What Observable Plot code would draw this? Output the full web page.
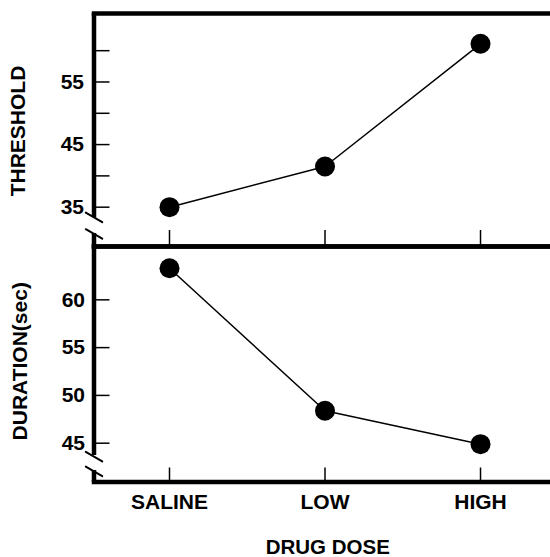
<!DOCTYPE html>
<html><head><meta charset="utf-8">
<script src="https://cdn.jsdelivr.net/npm/d3@7"></script>
<script src="https://cdn.jsdelivr.net/npm/@observablehq/plot@0.6"></script>
<style>
html,body{margin:0;padding:0;background:#fff;}
#chart{position:relative;width:550px;height:557px;}
#chart svg{position:absolute;left:0;top:0;}
</style></head><body><div id="chart"></div>
<script>
const doses = ["SALINE", "LOW", "HIGH"];
const threshold = [35.0, 41.5, 61.1];
const duration = [63.3, 48.4, 44.9];
const thresholdTicks = [35, 40, 45, 50, 55, 60];
const thresholdLabels = [35, 45, 55];
const durationTicks = [45, 50, 55, 60];

const W = 550, H = 557;
const FONT = "'Liberation Sans', Arial, Helvetica, sans-serif";
const STYLE = `background:transparent;font-family:${FONT};font-weight:bold;color:#000;`;
const xDomain = [-0.4855, 2.45];
const xLeft = xDomain[0];
const topData = doses.map((d, i) => ({i, dose: d, v: threshold[i]}));
const botData = doses.map((d, i) => ({i, dose: d, v: duration[i]}));
const slash = {draw(ctx, l) { ctx.moveTo(0, 0); ctx.lineTo(0, -l); }};
const AX = 4.5;

function leftAxis(segs, slashes) {
  return [
    Plot.ruleX(segs, {x: () => xLeft, y1: d => d[0], y2: d => d[1], strokeWidth: AX}),
    Plot.vector(slashes, {x: () => xLeft, y: d => d, length: 19, rotate: 120, anchor: "middle", shape: slash, strokeWidth: 2})
  ];
}

const topChart = Plot.plot({
  width: W, height: H, marginTop: 13, marginBottom: H - 246, marginLeft: 93.5, marginRight: 0,
  style: STYLE,
  x: {domain: xDomain},
  y: {domain: [28.72, 65.94]},
  marks: [
    Plot.frame({anchor: "top", strokeWidth: AX}),
    Plot.frame({anchor: "bottom", strokeWidth: AX}),
    ...leftAxis([[65.94, 33.35], [30.8, 28.72]], [33.37, 30.72]),
    Plot.axisY({ticks: thresholdTicks, tickSize: -16, tickPadding: 26, tickFormat: d => thresholdLabels.includes(d) ? String(d) : "", fontSize: 21, label: null, strokeWidth: 1.5}),
    Plot.axisX({ticks: [0, 1, 2], tickSize: -16, tickFormat: () => "", label: null, strokeWidth: 1.5}),
    Plot.text(["THRESHOLD"], {frameAnchor: "left", textAnchor: "middle", lineAnchor: "middle", rotate: -90, dx: -75.5, dy: 1, fontSize: 21, fontWeight: "bold"}),
    Plot.line(topData, {x: "i", y: "v", strokeWidth: 1.5}),
    Plot.dot(topData, {x: "i", y: "v", r: 10, fill: "black", stroke: null})
  ]
});

const botChart = Plot.plot({
  width: W, height: H, marginTop: 246, marginBottom: H - 481.5, marginLeft: 93.5, marginRight: 0,
  style: STYLE,
  x: {domain: xDomain},
  y: {domain: [40.94, 65.58]},
  marks: [
    Plot.frame({anchor: "top", strokeWidth: AX}),
    Plot.frame({anchor: "bottom", strokeWidth: AX}),
    ...leftAxis([[65.58, 43.71], [42.14, 40.94]], [43.59, 42.05]),
    Plot.axisY({ticks: durationTicks, tickSize: -16, tickPadding: 25, tickFormat: d => String(d), fontSize: 21, label: null, strokeWidth: 1.5}),
    Plot.axisX({ticks: [0, 1, 2], tickSize: -14, tickPadding: 26.5, tickFormat: i => doses[i], fontSize: 21, label: null, strokeWidth: 1.5}),
    Plot.text(["DURATION(sec)"], {frameAnchor: "left", textAnchor: "middle", lineAnchor: "middle", rotate: -90, dx: -74, dy: -3, fontSize: 21, fontWeight: "bold"}),
    Plot.text(["DRUG DOSE"], {frameAnchor: "bottom", textAnchor: "middle", lineAnchor: "middle", dx: 5.5, dy: 65, fontSize: 20.5, fontWeight: "bold"}),
    Plot.line(botData, {x: "i", y: "v", strokeWidth: 1.5}),
    Plot.dot(botData, {x: "i", y: "v", r: 10, fill: "black", stroke: null})
  ]
});

const el = document.getElementById("chart");
el.append(topChart, botChart);
</script>
</body></html>
